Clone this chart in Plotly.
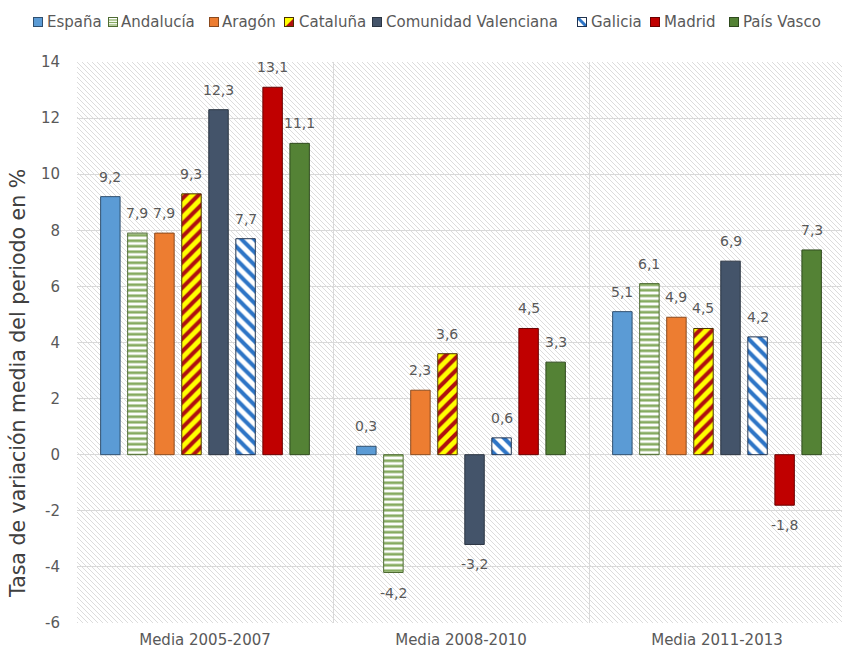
import base64
import plotly.graph_objects as go

# ---------------- data ----------------
categories = ["Media 2005-2007", "Media 2008-2010", "Media 2011-2013"]
regions = ["España", "Andalucía", "Aragón", "Cataluña", "Comunidad Valenciana",
           "Galicia", "Madrid", "País Vasco"]
espana = [9.2, 0.3, 5.1]
andalucia = [7.9, -4.2, 6.1]
aragon = [7.9, 2.3, 4.9]
cataluna = [9.3, 3.6, 4.5]
valenciana = [12.3, -3.2, 6.9]
galicia = [7.7, 0.6, 4.2]
madrid = [13.1, 4.5, -1.8]
pais_vasco = [11.1, 3.3, 7.3]
y_ticks = [-6, -4, -2, 0, 2, 4, 6, 8, 10, 12, 14]
y_title = "Tasa de variación media del periodo en %"

series = [espana, andalucia, aragon, cataluna, valenciana, galicia, madrid, pais_vasco]

# ---------------- layout constants ----------------
W_FIG, H_FIG = 842, 655
M_L, M_R, M_T, M_B = 77, 0, 62, 32
PLOT_W = W_FIG - M_L - M_R
PLOT_H = H_FIG - M_T - M_B
BARGAP = 0.155
BARGROUPGAP = 0.28
FONT = "DejaVu Sans"
TXT = "#595959"
GRID = "#d9d9d9"

styles = [
    dict(color="#5b9bd5", line="#2f4f6f"),
    dict(color="#ffffff", line="#4e6b32",
         pattern=dict(shape="-", bgcolor="#ffffff", fgcolor="#86ab60", size=5.5, solidity=0.5, fillmode="replace")),
    dict(color="#ed7d31", line="#8a4a1e"),
    dict(color="#ffff00", line="#4a3000",
         pattern=dict(shape="/", bgcolor="#ffff00", fgcolor="#b01010", size=9, solidity=0.45, fillmode="replace")),
    dict(color="#44546a", line="#2a3442"),
    dict(color="#ffffff", line="#1f3350",
         pattern=dict(shape="\\", bgcolor="#ffffff", fgcolor="#2e75c6", size=9, solidity=0.45, fillmode="replace")),
    dict(color="#c00000", line="#6a0000"),
    dict(color="#548235", line="#2f4a1e"),
]


def svg_uri(svg):
    return "data:image/svg+xml;base64," + base64.b64encode(svg.encode("utf-8")).decode("ascii")


def fmt(v):
    return f"{v:.1f}".replace(".", ",")


def px_x(px):
    return (px - M_L) / PLOT_W


def px_y(py):
    return (H_FIG - M_B - py) / PLOT_H


fig = go.Figure()

for i, (name, vals) in enumerate(zip(regions, series)):
    st = styles[i]
    marker = dict(color=st["color"], line=dict(color=st["line"], width=1))
    if "pattern" in st:
        marker["pattern"] = st["pattern"]
    fig.add_bar(x=categories, y=vals, name=name, marker=marker, showlegend=False,
                hovertemplate="%{x}<br>" + name + ": %{y}<extra></extra>")

# data labels
n = len(series)
group_w = 1 - BARGAP
slot = group_w / n
for i, vals in enumerate(series):
    off = -group_w / 2 + (i + 0.5) * slot
    for j, v in enumerate(vals):
        fig.add_annotation(x=j + off, y=v, xref="x", yref="y", text=fmt(v), showarrow=False,
                           yshift=20 if v >= 0 else -20, yanchor="middle",
                           font=dict(family=FONT, size=14, color=TXT))

# hatched plot background
bg_svg = (
    f"<svg xmlns='http://www.w3.org/2000/svg' width='{PLOT_W}' height='{PLOT_H}'>"
    "<defs><pattern id='p' patternUnits='userSpaceOnUse' width='5' height='5'>"
    "<rect width='5' height='5' fill='#ffffff'/>"
    "<path d='M-1,-1 L6,6 M-1,4 L1,6 M4,-1 L6,1' stroke='#dcdcdc' stroke-width='1'/>"
    "</pattern></defs>"
    f"<rect width='{PLOT_W}' height='{PLOT_H}' fill='url(#p)'/></svg>"
)
images = [dict(source=svg_uri(bg_svg), xref="paper", yref="paper", x=0, y=1, sizex=1, sizey=1,
               xanchor="left", yanchor="top", sizing="stretch", layer="below")]


# legend icons
def icon_svg(i):
    st = styles[i]
    c, lc = st["color"], st["line"]
    inner = ""
    if i == 1:
        inner = "".join(f"<line x1='0' y1='{y}' x2='10' y2='{y}' stroke='#86ab60' stroke-width='1.2'/>" for y in (3, 5.5, 8))
    elif i == 3:
        inner = "<polygon points='10,1 10,10 1,10' fill='#b01010'/>"
    elif i == 5:
        inner = "<line x1='1' y1='1' x2='9' y2='9' stroke='#2e75c6' stroke-width='3'/>"
    return ("<svg xmlns='http://www.w3.org/2000/svg' width='10' height='10'>"
            f"<rect x='0' y='0' width='10' height='10' fill='{c}'/>" + inner +
            f"<rect x='0.5' y='0.5' width='9' height='9' fill='none' stroke='{lc}' stroke-width='1'/></svg>")


legend_sq = [33, 108, 209, 284, 372, 577, 650, 729]
legend_txt = [47, 121, 222, 299, 386, 591, 664, 743]
for i, name in enumerate(regions):
    images.append(dict(source=svg_uri(icon_svg(i)), xref="paper", yref="paper",
                       x=px_x(legend_sq[i]), y=px_y(17), sizex=10 / PLOT_W, sizey=10 / PLOT_H,
                       xanchor="left", yanchor="top", sizing="stretch", layer="above"))
    fig.add_annotation(x=px_x(legend_txt[i] - 2), y=px_y(22), xref="paper", yref="paper",
                       text=name, showarrow=False, xanchor="left", yanchor="middle",
                       font=dict(family=FONT, size=15, color=TXT))

# y-axis title
fig.add_annotation(x=px_x(18), y=px_y(384), xref="paper", yref="paper", text=y_title,
                   textangle=-90, showarrow=False, xanchor="center", yanchor="middle",
                   font=dict(family=FONT, size=20.5, color="#404040"))

fig.update_layout(
    width=W_FIG, height=H_FIG,
    margin=dict(l=M_L, r=M_R, t=M_T, b=M_B, autoexpand=False),
    paper_bgcolor="#ffffff",
    plot_bgcolor="rgba(0,0,0,0)",
    barmode="group", bargap=BARGAP, bargroupgap=BARGROUPGAP,
    showlegend=False,
    images=images,
    font=dict(family=FONT, size=15, color=TXT),
)
fig.update_xaxes(type="category", range=[-0.5, 2.5 - 3 / 256], tickson="boundaries",
                 showgrid=True, gridcolor=GRID, gridwidth=1, ticks="", showline=False,
                 zeroline=False, tickfont=dict(family=FONT, size=15, color=TXT),
                 ticklabelstandoff=6)
fig.update_yaxes(range=[-6, 14], tickvals=y_ticks, ticktext=[str(t) for t in y_ticks],
                 showgrid=True, gridcolor=GRID, gridwidth=1,
                 zeroline=True, zerolinecolor=GRID, zerolinewidth=1, showline=False, ticks="",
                 tickfont=dict(family=FONT, size=15, color=TXT), ticklabelstandoff=16)

fig.write_html("out.html", config={"displayModeBar": False},
               post_script="document.body.style.margin='0';document.body.style.overflow='hidden';")
